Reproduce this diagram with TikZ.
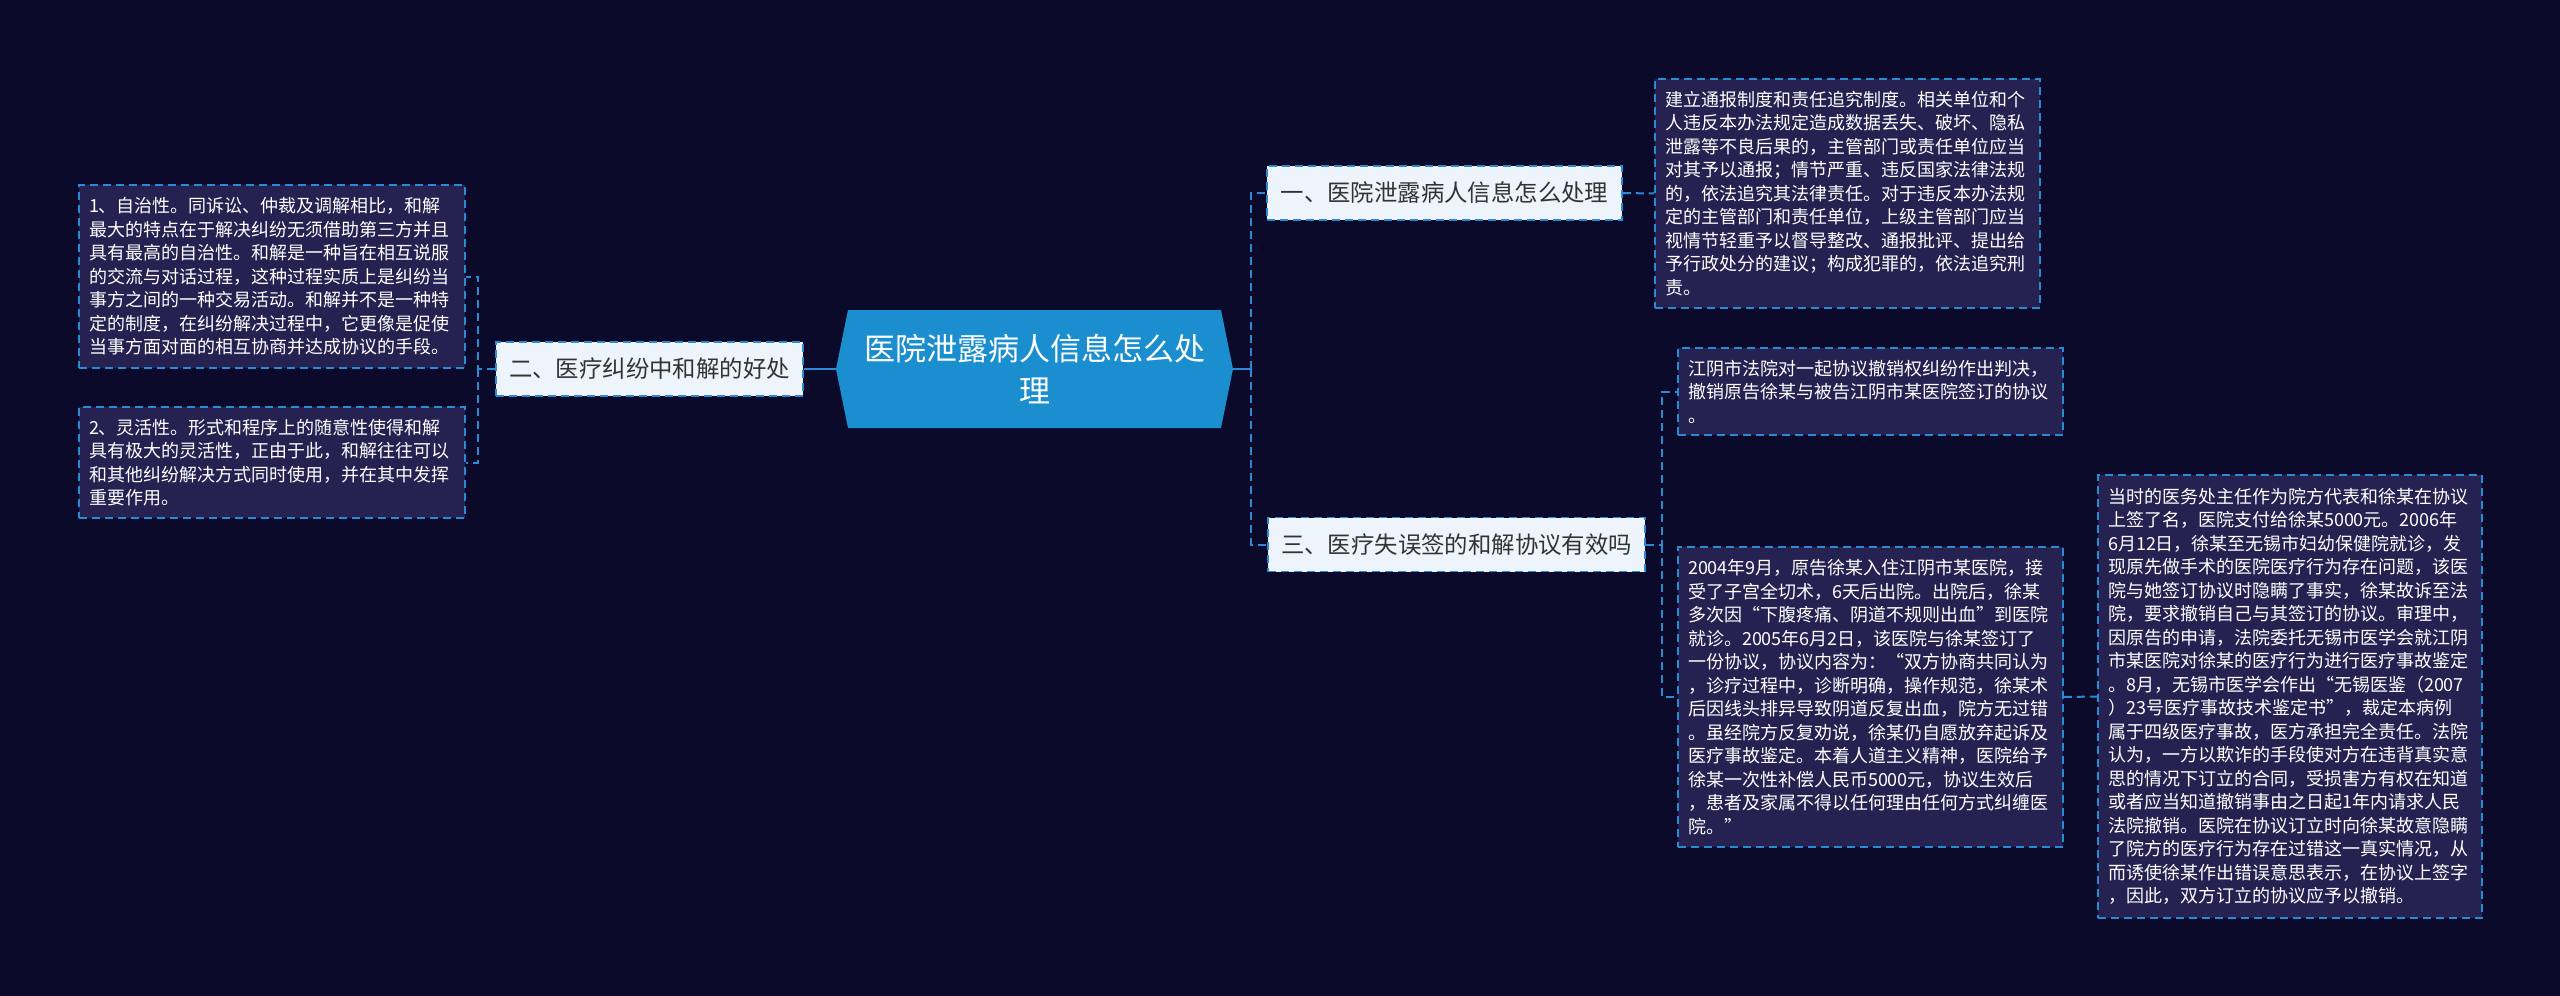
\documentclass[tikz,border=0pt]{standalone}
\usepackage{fontspec}
\setmainfont{Noto Sans CJK SC}
\definecolor{bgc}{HTML}{0B0A2B}
\definecolor{leaffill}{HTML}{252150}
\definecolor{edgeblue}{HTML}{2A8AD4}
\definecolor{centerfill}{HTML}{1B8ED0}
\definecolor{branchfill}{HTML}{EEF4FC}
\definecolor{branchtext}{HTML}{333333}
\tikzset{
  leaf/.style={draw=edgeblue, line width=1.6pt, dash pattern=on 8pt off 5pt, fill=leaffill,
    text=white, align=left, inner xsep=10pt, inner ysep=0pt,
    font=\fontsize{18}{23.5}\selectfont},
  branch/.style={draw=edgeblue, line width=1.6pt, dash pattern=on 8pt off 5pt, fill=branchfill,
    text=branchtext, inner sep=0pt, font=\fontsize{23.4}{28}\selectfont},
  conn/.style={draw=edgeblue, line width=2pt, dash pattern=on 8pt off 5pt},
  solidconn/.style={draw=edgeblue, line width=2.4pt},
}
\begin{document}
\begin{tikzpicture}[x=1pt,y=-1pt]
\useasboundingbox (0,0) rectangle (2560,996);
\fill[bgc] (0,0) rectangle (2560,996);
% center hexagon
\fill[centerfill] (836,369) -- (848,310) -- (1221,310) -- (1233,369) -- (1221,428) -- (848,428) -- cycle;
\node[minimum width=397pt, minimum height=118pt, inner sep=0pt, text=white, align=center,
  font=\fontsize{31}{42}\selectfont] (C) at (1034.5,369) {医院泄露病人信息怎么处\\理};
% branches
\node[branch, minimum width=307pt, minimum height=54pt] (B2) at (649.5,369) {二、医疗纠纷中和解的好处};
\node[branch, minimum width=355pt, minimum height=54pt] (B1) at (1444.5,193) {一、医院泄露病人信息怎么处理};
\node[branch, minimum width=377pt, minimum height=54pt] (B3) at (1456.5,544.5) {三、医疗失误签的和解协议有效吗};
% leaves
\node[leaf, text width=366pt, minimum height=183pt] (L1) at (272,276.5) {1、自治性。同诉讼、仲裁及调解相比，和解\\
最大的特点在于解决纠纷无须借助第三方并且\\
具有最高的自治性。和解是一种旨在相互说服\\
的交流与对话过程，这种过程实质上是纠纷当\\
事方之间的一种交易活动。和解并不是一种特\\
定的制度，在纠纷解决过程中，它更像是促使\\
当事方面对面的相互协商并达成协议的手段。};
\node[leaf, text width=366pt, minimum height=111pt] (L2) at (272,462.5) {2、灵活性。形式和程序上的随意性使得和解\\
具有极大的灵活性，正由于此，和解往往可以\\
和其他纠纷解决方式同时使用，并在其中发挥\\
重要作用。};
\node[leaf, text width=365pt, minimum height=229pt] (R1) at (1847.5,193.5) {建立通报制度和责任追究制度。相关单位和个\\
人违反本办法规定造成数据丢失、破坏、隐私\\
泄露等不良后果的，主管部门或责任单位应当\\
对其予以通报；情节严重、违反国家法律法规\\
的，依法追究其法律责任。对于违反本办法规\\
定的主管部门和责任单位，上级主管部门应当\\
视情节轻重予以督导整改、通报批评、提出给\\
予行政处分的建议；构成犯罪的，依法追究刑\\
责。};
\node[leaf, text width=365pt, minimum height=87pt] (R2) at (1870.5,391.5) {江阴市法院对一起协议撤销权纠纷作出判决，\\
撤销原告徐某与被告江阴市某医院签订的协议\\
。};
\node[leaf, text width=365pt, minimum height=300pt] (R3) at (1870.5,697) {2004年9月，原告徐某入住江阴市某医院，接\\
受了子宫全切术，6天后出院。出院后，徐某\\
多次因“下腹疼痛、阴道不规则出血”到医院\\
就诊。2005年6月2日，该医院与徐某签订了\\
一份协议，协议内容为：“双方协商共同认为\\
，诊疗过程中，诊断明确，操作规范，徐某术\\
后因线头排异导致阴道反复出血，院方无过错\\
。虽经院方反复劝说，徐某仍自愿放弃起诉及\\
医疗事故鉴定。本着人道主义精神，医院给予\\
徐某一次性补偿人民币5000元，协议生效后\\
，患者及家属不得以任何理由任何方式纠缠医\\
院。”};
\node[leaf, text width=364pt, minimum height=443pt] (R4) at (2290,696.5) {当时的医务处主任作为院方代表和徐某在协议\\
上签了名，医院支付给徐某5000元。2006年\\
6月12日，徐某至无锡市妇幼保健院就诊，发\\
现原先做手术的医院医疗行为存在问题，该医\\
院与她签订协议时隐瞒了事实，徐某故诉至法\\
院，要求撤销自己与其签订的协议。审理中，\\
因原告的申请，法院委托无锡市医学会就江阴\\
市某医院对徐某的医疗行为进行医疗事故鉴定\\
。8月，无锡市医学会作出“无锡医鉴（2007\\
）23号医疗事故技术鉴定书”，裁定本病例\\
属于四级医疗事故，医方承担完全责任。法院\\
认为，一方以欺诈的手段使对方在违背真实意\\
思的情况下订立的合同，受损害方有权在知道\\
或者应当知道撤销事由之日起1年内请求人民\\
法院撤销。医院在协议订立时向徐某故意隐瞒\\
了院方的医疗行为存在过错这一真实情况，从\\
而诱使徐某作出错误意思表示，在协议上签字\\
，因此，双方订立的协议应予以撤销。};
% connectors
\coordinate (busL) at (478,369);
\coordinate (busC) at (1251,369);
\coordinate (busR) at (1662,544.5);
\draw[solidconn] (C.west) -- (B2.east);
\draw[conn] (B2.west) -- (busL) |- (L1.east);
\draw[conn] (busL) |- (L2.east);
\draw[solidconn] (C.east) -- (busC);
\draw[conn] (busC) |- (B1.west);
\draw[conn] (busC) |- (B3.west);
\draw[conn] (B1.east) -- (R1.west);
\draw[conn] (B3.east) -- (busR) |- (R2.west);
\draw[conn] (busR) |- (R3.west);
\draw[conn] (R3.east) -- (R4.west);
\end{tikzpicture}
\end{document}
